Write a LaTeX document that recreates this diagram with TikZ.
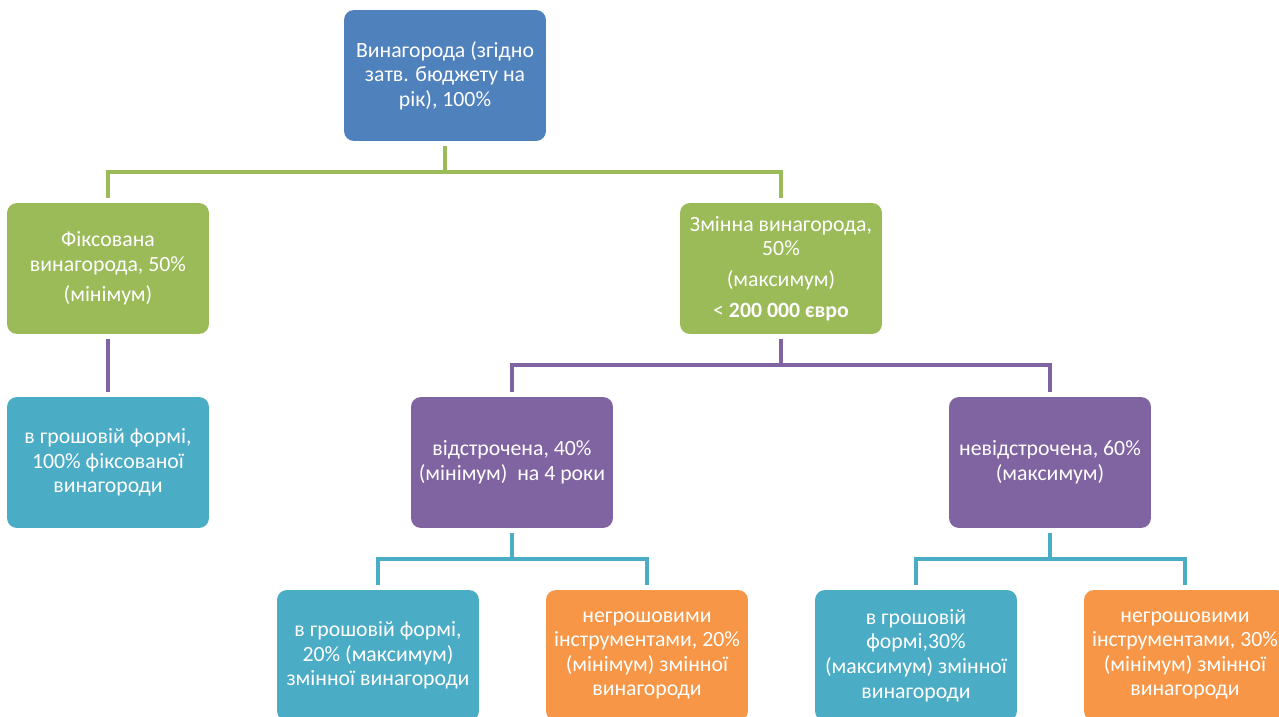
\documentclass[tikz,border=0pt]{standalone}
\usepackage{fontspec}
\setmainfont{Carlito}
\definecolor{boxblue}{HTML}{4F81BD}
\definecolor{boxgreen}{HTML}{9BBB59}
\definecolor{boxteal}{HTML}{4BACC6}
\definecolor{boxpurple}{HTML}{8064A2}
\definecolor{boxorange}{HTML}{F79646}
\tikzset{
	box/.style={rounded corners=0.2cm, minimum width=4.04cm, minimum height=2.62cm, inner sep=0pt,
		text=white, align=center, font=\fontsize{12.4}{14}\selectfont, outer ysep=0.1cm},
	link/.style={line width=0.09cm, line join=miter},
}
\begin{document}
\begin{tikzpicture}[x=0.02cm, y=-0.02cm]
		\clip (0, 0) rectangle (1279, 717);
		\node[box, fill=boxblue] (top) at (445, 75.5) {Винагорода (згідно\\затв. бюджету на\\рік), 100\%};
		\node[box, fill=boxgreen] (fixed) at (108, 268.5) {Фіксована\\винагорода, 50\%\\[3.5pt](мінімум)};
		\node[box, fill=boxgreen] (var) at (781, 268.5) {Змінна винагорода,\\50\%\\[3.5pt](максимум)\\[3.5pt]< \textbf{200 000 євро}};
		\node[box, fill=boxteal] (fixcash) at (108, 462.5) {в грошовій формі,\\100\% фіксованої\\винагороди};
		\node[box, fill=boxpurple] (defer) at (512, 462.5) {відстрочена, 40\%\\(мінімум)\ \ на 4 роки};
		\node[box, fill=boxpurple] (nodefer) at (1050, 462.5) {невідстрочена, 60\%\\(максимум)};
		\node[box, fill=boxteal] (defcash) at (378, 655.5) {в грошовій формі,\\20\% (максимум)\\змінної винагороди};
		\node[box, fill=boxorange] (defother) at (647, 655.5) {негрошовими\\інструментами, 20\%\\(мінімум) змінної\\винагороди};
		\node[box, fill=boxteal] (nodcash) at (916, 655.5) {в грошовій\\формі,30\%\\(максимум) змінної\\винагороди};
		\node[box, fill=boxorange] (nodother) at (1185, 655.5) {негрошовими\\інструментами, 30\%\\(мінімум) змінної\\винагороди};
		\draw[link, boxgreen] (top.south) -- ++(0, 26) -| (fixed.north)
			(top.south) -- ++(0, 26) -| (var.north);
		\draw[link, boxpurple] (fixed.south) -- (fixcash.north)
			(var.south) -- ++(0, 26) -| (defer.north)
			(var.south) -- ++(0, 26) -| (nodefer.north);
		\draw[link, boxteal] (defer.south) -- ++(0, 26) -| (defcash.north)
			(defer.south) -- ++(0, 26) -| (defother.north)
			(nodefer.south) -- ++(0, 26) -| (nodcash.north)
			(nodefer.south) -- ++(0, 26) -| (nodother.north);
\end{tikzpicture}
\end{document}
